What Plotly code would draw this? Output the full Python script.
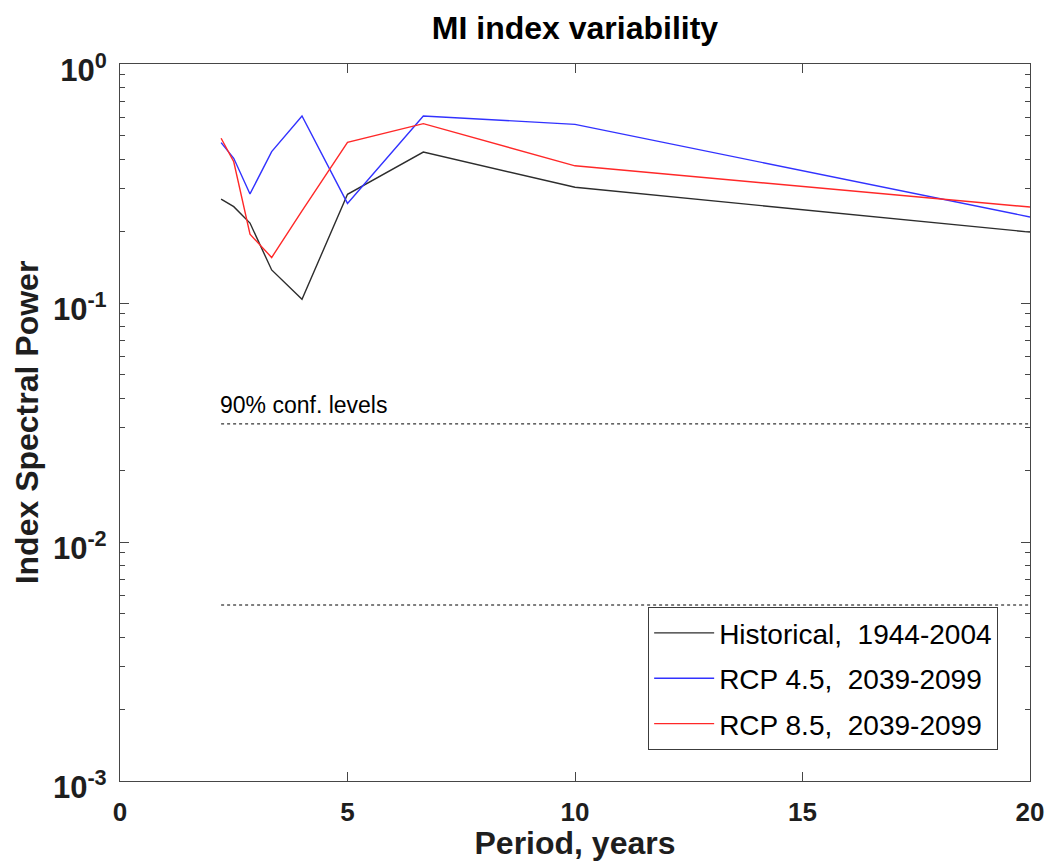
import math
import plotly.graph_objects as go

# Data
periods = [20/9, 20/8, 20/7, 20/6, 20/5, 20/4, 20/3, 20/2, 20/1]
historical = [0.272, 0.253, 0.216, 0.1375, 0.1036, 0.285, 0.428, 0.305, 0.198]
rcp45 = [0.469, 0.403, 0.286, 0.430, 0.606, 0.261, 0.606, 0.559, 0.229]
rcp85 = [0.489, 0.390, 0.194, 0.155, 0.243, 0.470, 0.563, 0.375, 0.252]
conf_levels = [0.0312, 0.00545]
conf_x = [20/9, 20]
series_names = ["Historical,&nbsp;&nbsp;1944-2004", "RCP 4.5,&nbsp;&nbsp;2039-2099", "RCP 8.5,&nbsp;&nbsp;2039-2099"]
y_tickvals = [0.001, 0.01, 0.1, 1]
y_ticktext = ["10<sup>-3</sup>", "10<sup>-2</sup>", "10<sup>-1</sup>", "10<sup>0</sup>"]
x_tickvals = [0, 5, 10, 15, 20]

FONT = "Liberation Sans, Arial, sans-serif"
AX = "rgb(70,70,70)"

fig = go.Figure()
for i, (ys, name, col) in enumerate([(historical, series_names[0], "rgb(45,45,45)"),
                                     (rcp45, series_names[1], "rgb(50,50,255)"),
                                     (rcp85, series_names[2], "rgb(255,40,40)")]):
    fig.add_trace(go.Scatter(x=periods, y=ys, mode="lines", name=name,
                             legendgroup=f"g{i}",
                             line=dict(color=col, width=1.4)))

for c in conf_levels:
    fig.add_trace(go.Scatter(x=conf_x, y=[c, c], mode="lines", showlegend=False,
                             line=dict(color="black", width=1, dash="3px,3px"),
                             hoverinfo="skip"))

fig.add_annotation(x=conf_x[0], y=math.log10(conf_levels[0]), xref="x", yref="y",
                   text="90% conf. levels", showarrow=False,
                   xanchor="left", yanchor="bottom", yshift=4, xshift=-3,
                   font=dict(family=FONT, size=23, color="black"))

minor_vals = [m * 10**e for e in (-3, -2, -1) for m in range(2, 10)]

fig.update_layout(
    width=1048, height=861,
    margin=dict(l=120, r=18, t=64, b=80),
    paper_bgcolor="white", plot_bgcolor="white",
    title=dict(text="<b>MI index variability</b>", x=0.5, xanchor="center",
               xref="paper", y=0.968, yanchor="middle",
               font=dict(family=FONT, size=32, color="black")),
    font=dict(family=FONT, color="black"),
    legend=dict(x=0.965, y=0.043, xanchor="right", yanchor="bottom",
                bgcolor="white", bordercolor="rgb(60,60,60)", borderwidth=1,
                font=dict(family=FONT, size=28, color="black"),
                tracegroupgap=6, itemwidth=60),
    showlegend=True,
)

fig.update_xaxes(range=[0, 20], tickvals=x_tickvals, ticks="inside", ticklen=9,
                 tickcolor=AX, showline=True, linecolor=AX, automargin=False,
                 linewidth=1.2, mirror="ticks", showgrid=False, zeroline=False,
                 ticklabelstandoff=8,
                 tickfont=dict(family=FONT, size=26, weight="bold", color="rgb(30,30,30)"),
                 title=dict(text="<b>Period, years</b>", standoff=14,
                            font=dict(family=FONT, size=32, color="rgb(30,30,30)")))

fig.update_yaxes(type="log", range=[-3, 0], tickvals=y_tickvals, ticktext=y_ticktext,
                 ticks="inside", ticklen=9, tickcolor=AX, automargin=False,
                 showline=True, linecolor=AX, linewidth=1.2,
                 mirror="ticks", showgrid=False, zeroline=False,
                 ticklabelstandoff=6, ticklabelshift=6,
                 minor=dict(tickvals=minor_vals, ticks="inside", ticklen=5,
                            tickcolor=AX, showgrid=False),
                 tickfont=dict(family=FONT, size=31, weight="bold", color="rgb(30,30,30)"),
                 title=dict(text="<b>Index Spectral Power</b>", standoff=4,
                            font=dict(family=FONT, size=32, color="rgb(30,30,30)")))

fig.write_html("out.html")
